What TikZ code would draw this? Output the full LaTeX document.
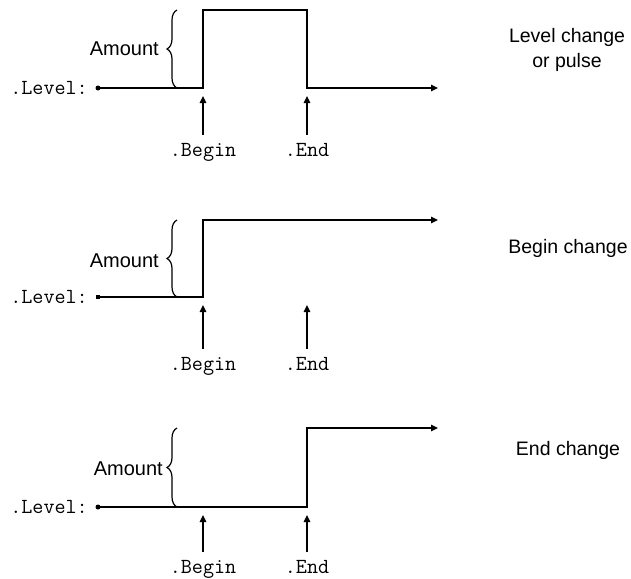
\documentclass[tikz,border=0pt]{standalone}
\usepackage{fontspec}
\setmainfont{Liberation Sans}
\setmonofont{Latin Modern Mono}
\usetikzlibrary{arrows.meta,positioning,calc,decorations.pathreplacing}

\begin{document}
\begin{tikzpicture}[
  x=1pt, y=-1pt,
  signal/.style={draw=black, line width=1.3pt, -{Triangle[length=7pt,width=6.5pt]}},
  pointer/.style={draw=black, line width=1.3pt, -{Triangle[length=7pt,width=6.5pt]},
                  shorten <=8pt},
  amountbrace/.style={draw=black, line width=1.2pt, decorate,
                      decoration={brace, amplitude=10pt}},
  mono/.style={font=\ttfamily\fontsize{21.5}{25}\selectfont, inner sep=0pt},
  caption/.style={font=\fontsize{19.5}{25}\selectfont, align=center, inner sep=0pt},
  amount/.style={font=\fontsize{20}{23}\selectfont, inner sep=0pt, anchor=east},
  dot/.style={circle, fill=black, inner sep=0pt, minimum size=5pt},
]
  \useasboundingbox (0,0) rectangle (631,578);

  %% Panel 1: level change or pulse
  \node[mono, anchor=east] (lev1) at (88,88) {.Level:};
  \node[dot] (d1) at (98,88) {};
  \coordinate (p1a) at (203,88);
  \coordinate (p1b) at (203,10);
  \coordinate (p1c) at (307,10);
  \coordinate (p1d) at (307,88);
  \coordinate (p1e) at (438,88);
  \draw[signal] (d1.center) -- (p1a) -- (p1b) -- (p1c) -- (p1d) -- (p1e);
  \draw[amountbrace] (177,88) -- (177,10);
  \node[amount] (amt1) at (159,49) {Amount};
  \node[mono, anchor=north] (beg1) at (203,143) {.Begin};
  \node[mono, anchor=north] (end1) at (307,143) {.End};
  \coordinate (bt1) at (203,96);
  \coordinate (et1) at (307,96);
  \draw[pointer] (beg1.north) -- (bt1);
  \draw[pointer] (end1.north) -- (et1);
  \node[caption] (cap1) at (567,50) {Level change\\or pulse};

  %% Panel 2: begin change
  \node[mono, anchor=east] (lev2) at (88,297) {.Level:};
  \node[dot, rectangle, minimum size=4.5pt] (d2) at (98,297) {};
  \coordinate (p2a) at (203,297);
  \coordinate (p2b) at (203,220);
  \coordinate (p2c) at (438,220);
  \draw[signal] (d2.center) -- (p2a) -- (p2b) -- (p2c);
  \draw[amountbrace] (177,297) -- (177,220);
  \node[amount] (amt2) at (159,261) {Amount};
  \node[mono, anchor=north] (beg2) at (203,357) {.Begin};
  \node[mono, anchor=north] (end2) at (307,357) {.End};
  \coordinate (bt2) at (203,305);
  \coordinate (et2) at (307,305);
  \draw[pointer] (beg2.north) -- (bt2);
  \draw[pointer] (end2.north) -- (et2);
  \node[caption] (cap2) at (568,248) {Begin change};

  %% Panel 3: end change
  \node[mono, anchor=east] (lev3) at (88,507) {.Level:};
  \node[dot] (d3) at (98,507) {};
  \coordinate (p3a) at (307,507);
  \coordinate (p3b) at (307,428);
  \coordinate (p3c) at (438,428);
  \draw[signal] (d3.center) -- (p3a) -- (p3b) -- (p3c);
  \draw[amountbrace] (177,507) -- (177,428);
  \node[amount] (amt3) at (163,469) {Amount};
  \node[mono, anchor=north] (beg3) at (203,560) {.Begin};
  \node[mono, anchor=north] (end3) at (307,560) {.End};
  \coordinate (bt3) at (203,515);
  \coordinate (et3) at (307,515);
  \draw[pointer] (beg3.north) -- (bt3);
  \draw[pointer] (end3.north) -- (et3);
  \node[caption] (cap3) at (568,450) {End change};

\end{tikzpicture}
\end{document}
